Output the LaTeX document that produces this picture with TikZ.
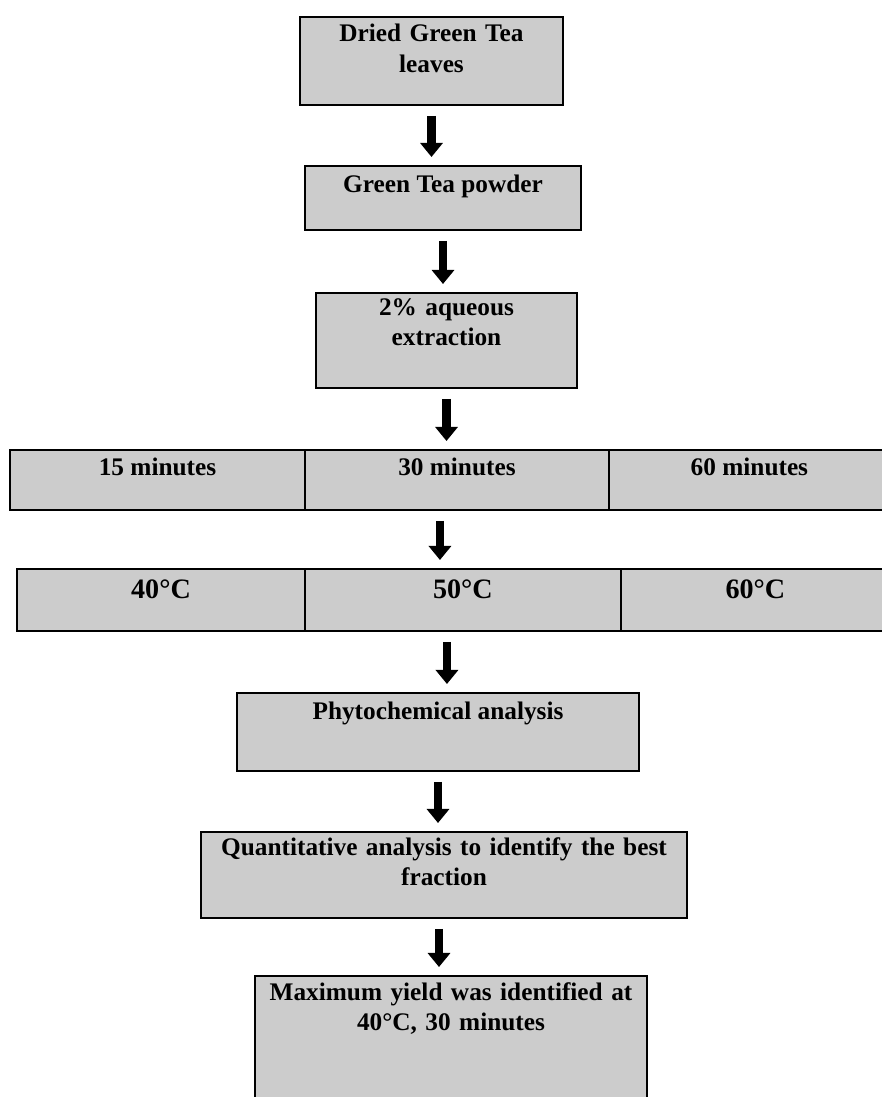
\documentclass[tikz,border=0pt]{standalone}
\usepackage{fontspec}
\setmainfont{Liberation Serif}
\usepackage{xcolor}
\usepackage{tikz}
\usetikzlibrary{arrows.meta, positioning}
\definecolor{boxgray}{HTML}{CCCCCC}
\tikzstyle{arrow} = [-{Triangle[width=12.5pt,length=8pt]}, line width=5pt, shorten <=0.22cm, shorten >=0.18cm]
\tikzstyle{box} = [draw, fill=boxgray, line width=0.9pt, inner sep=0pt, outer sep=0pt]
\tikzstyle{txt} = [anchor=base, align=center, inner sep=0pt, font=\bfseries\fontsize{14.4pt}{17.6pt}\selectfont]
\tikzstyle{bigtxt} = [anchor=base, align=center, inner sep=0pt, font=\bfseries\fontsize{16pt}{19pt}\selectfont]

\begin{document}
\begin{tikzpicture}[x=0.02cm, y=-0.02cm]
	\useasboundingbox (0,0) rectangle (881,1097);

	\node (dried) [box, minimum width=5.26cm, minimum height=1.76cm] at (431.5,61) {};
	\node (powder) [box, minimum width=5.52cm, minimum height=1.28cm] at (443,198) {};
	\node (extract) [box, minimum width=5.22cm, minimum height=1.9cm] at (446.5,340.5) {};

	\node (t15) [box, minimum width=5.9cm, minimum height=1.2cm] at (157.5,480) {};
	\node (t30) [box, right=0pt of t15, minimum width=6.08cm, minimum height=1.2cm] {};
	\node (t60) [box, right=0pt of t30, minimum width=5.62cm, minimum height=1.2cm] {};

	\node (c40) [box, minimum width=5.76cm, minimum height=1.24cm] at (161,600) {};
	\node (c50) [box, right=0pt of c40, minimum width=6.32cm, minimum height=1.24cm] {};
	\node (c60) [box, right=0pt of c50, minimum width=5.38cm, minimum height=1.24cm] {};

	\node (phyto) [box, minimum width=8.04cm, minimum height=1.56cm] at (438,732) {};
	\node (quant) [box, minimum width=9.72cm, minimum height=1.72cm] at (444,875) {};
	\node (max) [box, minimum width=7.84cm, minimum height=2.58cm] at (451,1040.5) {};

	\node (driedtxt) [txt, text width=5.1cm] at ([yshift=-0.5cm]dried.north) {Dried Green Tea\\leaves};
	\node (powdertxt) [txt] at ([yshift=-0.54cm]powder.north) {Green Tea powder};
	\node (extracttxt) [txt, text width=5.1cm] at ([yshift=-0.44cm]extract.north) {2\% aqueous\\extraction};

	\node (t15txt) [txt] at ([yshift=-0.5cm]t15.north) {15 minutes};
	\node (t30txt) [txt] at ([yshift=-0.5cm]t30.north) {30 minutes};
	\node (t60txt) [txt] at ([yshift=-0.5cm]t60.north) {60 minutes};

	\node (c40txt) [bigtxt] at ([yshift=-0.58cm]c40.north) {40°C};
	\node (c50txt) [bigtxt] at ([yshift=-0.58cm]c50.north) {50°C};
	\node (c60txt) [bigtxt] at ([yshift=-0.58cm]c60.north) {60°C};

	\node (phytotxt) [txt] at ([yshift=-0.52cm]phyto.north) {Phytochemical analysis};
	\node (quanttxt) [txt, text width=9.5cm] at ([yshift=-0.46cm]quant.north) {Quantitative analysis to identify the best\\fraction};
	\node (maxtxt) [txt, text width=7.7cm] at ([yshift=-0.48cm]max.north) {Maximum yield was identified at\\40°C, 30 minutes};

	\draw [arrow] (dried) -- (dried |- powder.north);
	\draw [arrow] (powder) -- (powder |- extract.north);
	\draw [arrow] (extract) -- (extract |- t30.north);
	\draw [arrow] ([xshift=-0.34cm]t30.south) -- ([xshift=-0.34cm]t30.south |- c50.north);
	\draw [arrow] ([xshift=-0.32cm]c50.south) -- ([xshift=-0.32cm]c50.south |- phyto.north);
	\draw [arrow] (phyto) -- (phyto |- quant.north);
	\draw [arrow] ([xshift=-0.1cm]quant.south) -- ([xshift=-0.1cm]quant.south |- max.north);
\end{tikzpicture}
\end{document}
